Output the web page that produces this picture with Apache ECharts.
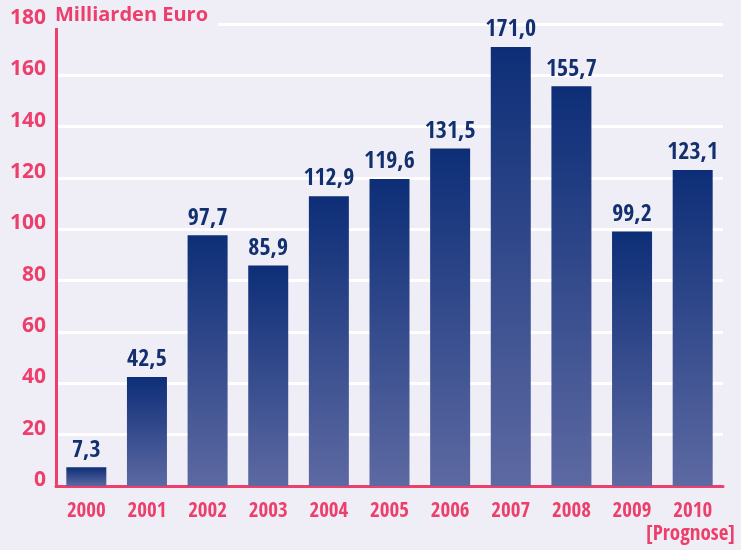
<!DOCTYPE html>
<html>
<head>
<meta charset="utf-8">
<script src="https://cdn.jsdelivr.net/npm/echarts@6/dist/echarts.min.js"></script>
<style>
	html, body { margin: 0; padding: 0; background: #efedf6; }
	#chart { width: 741px; height: 550px; }
</style>
</head>
<body>
<div id="chart"></div>
<script type="text/javascript">
	// Daten
	var years = ['2000', '2001', '2002', '2003', '2004', '2005', '2006', '2007', '2008', '2009', '2010'];
	var values = [7.3, 42.5, 97.7, 85.9, 112.9, 119.6, 131.5, 171.0, 155.7, 99.2, 123.1];
	var unitLabel = 'Milliarden Euro';
	var noteLabel = '[Prognose]';

	var pink = '#ec3f6c';
	var navy = '#12306f';
	var narrow = '"Open Sans Condensed", "Roboto Condensed", sans-serif';

	var myChart = echarts.init(document.getElementById('chart'));

	myChart.setOption({
		backgroundColor: '#efedf6',
		animation: false,
		title: {
			text: unitLabel,
			left: 48,
			top: 3,
			padding: [2, 10, 3, 7],
			backgroundColor: '#efedf6',
			textStyle: {
				color: pink,
				fontFamily: '"Open Sans", sans-serif',
				fontWeight: 'bold',
				fontSize: 20
			}
		},
		graphic: [{
			type: 'text',
			right: 6,
			top: 524,
			style: {
				text: noteLabel,
				fill: pink,
				font: 'bold 21px ' + narrow
			}
		}],
		grid: {
			left: 56,
			right: 18,
			top: 24,
			bottom: 64,
			containLabel: false
		},
		xAxis: {
			type: 'category',
			data: years,
			axisLine: { lineStyle: { color: pink, width: 3 } },
			axisTick: { show: false },
			axisLabel: {
				interval: 0,
				color: pink,
				fontFamily: narrow,
				fontWeight: 'bold',
				fontSize: 21,
				margin: 15
			}
		},
		yAxis: {
			type: 'value',
			min: 0,
			max: 180,
			interval: 20,
			axisLine: { show: true, lineStyle: { color: pink, width: 3 } },
			axisTick: { show: false },
			splitLine: { lineStyle: { color: '#ffffff', width: 3 } },
			axisLabel: {
				color: pink,
				fontFamily: '"Open Sans", sans-serif',
				fontWeight: 'bold',
				fontSize: 21,
				margin: 10,
				verticalAlign: 'bottom',
				lineHeight: 12
			}
		},
		series: [{
			type: 'bar',
			data: values,
			barWidth: 40,
			itemStyle: {
				color: new echarts.graphic.LinearGradient(0, 0, 0, 1, [
					{ offset: 0, color: '#0d2e77' },
					{ offset: 1, color: '#5d69a2' }
				])
			},
			label: {
				show: true,
				position: 'top',
				distance: 5,
				color: navy,
				fontFamily: narrow,
				fontWeight: 'bold',
				fontSize: 24,
				formatter: function (p) {
					return p.value.toFixed(1).replace('.', ',');
				}
			}
		}]
	});
</script>
</body>
</html>
